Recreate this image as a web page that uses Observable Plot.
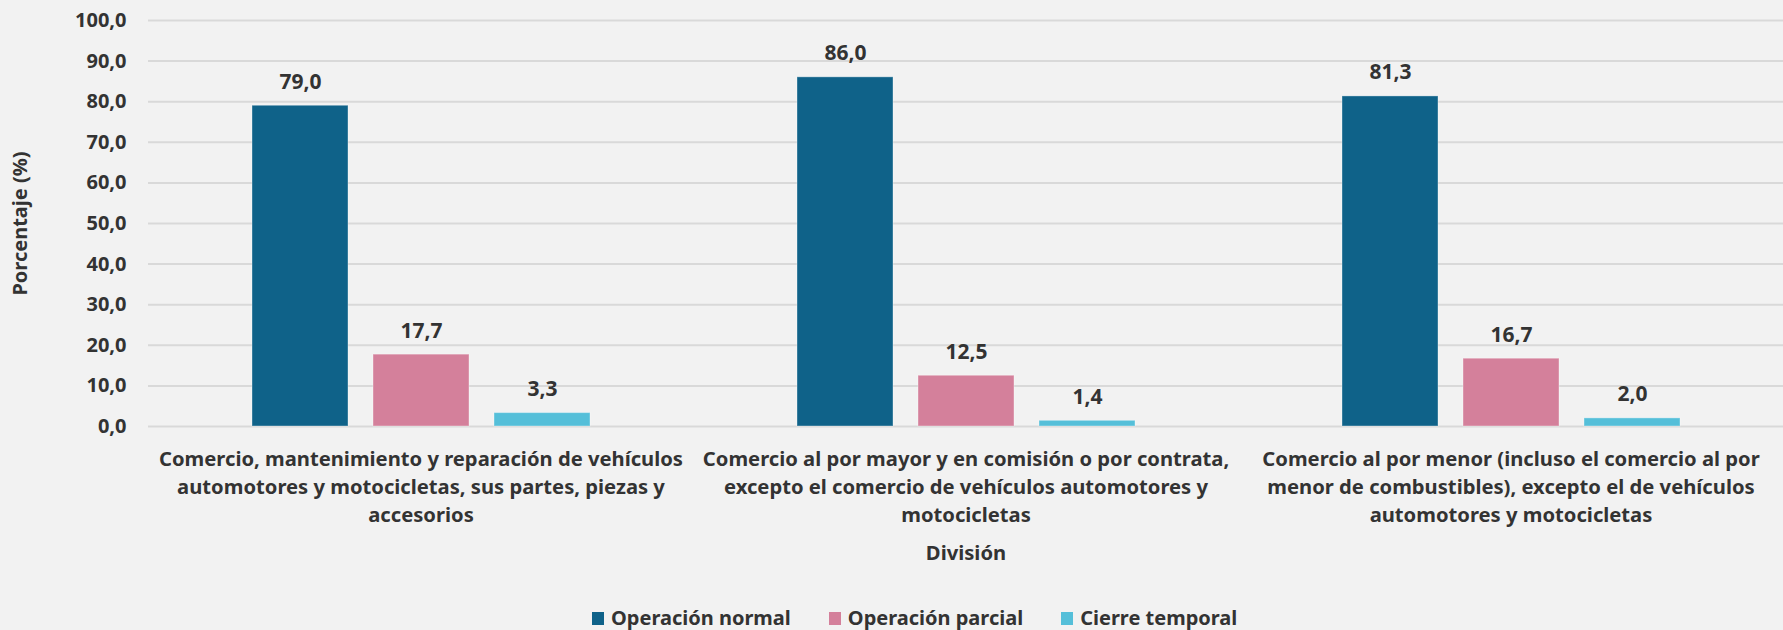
<!DOCTYPE html>
<html>
<head>
<meta charset="utf-8">
<script src="https://cdn.jsdelivr.net/npm/d3@7"></script>
<script src="https://cdn.jsdelivr.net/npm/@observablehq/plot@0.6"></script>
<style>
  html, body { margin: 0; padding: 0; background: #f2f2f2; }
  #chart { width: 1783px; }
  #legend { margin-left: 592px; padding-top: 31px; height: 24px; display: flex; align-items: center;
    font-family: "Noto Sans", sans-serif; font-weight: bold; font-size: 20px; color: #333; line-height: 24px; }
  #legend .item { display: inline-flex; align-items: center; margin-right: 38px; }
  #legend .sw { width: 12px; height: 13px; margin-right: 7px; display: inline-block; }
</style>
</head>
<body>
<div id="chart"></div>
<div id="legend"></div>
<script>
const divisiones = [
  "Comercio, mantenimiento y reparación de vehículos\nautomotores y motocicletas, sus partes, piezas y\naccesorios",
  "Comercio al por mayor y en comisión o por contrata,\nexcepto el comercio de vehículos automotores y\nmotocicletas",
  "Comercio al por menor (incluso el comercio al por\nmenor de combustibles), excepto el de vehículos\nautomotores y motocicletas"
];
const series = ["Operación normal", "Operación parcial", "Cierre temporal"];
const operacionNormal = [79.0, 86.0, 81.3];
const operacionParcial = [17.7, 12.5, 16.7];
const cierreTemporal = [3.3, 1.4, 2.0];
const yTicks = [0, 10, 20, 30, 40, 50, 60, 70, 80, 90, 100];
const colores = ["#0f6289", "#d4809b", "#55bfd9"];

const valores = [operacionNormal, operacionParcial, cierreTemporal];
const rows = [];
divisiones.forEach((d, i) => {
  series.forEach((s, j) => rows.push({division: d, serie: s, valor: valores[j][i]}));
});
const fmt = v => v.toFixed(1).replace(".", ",");

const chart = Plot.plot({
  width: 1783,
  height: 575,
  marginLeft: 148,
  marginRight: 0,
  marginTop: 20,
  marginBottom: 149,
  style: {background: "#f2f2f2", fontFamily: "'Noto Sans', sans-serif", fontWeight: "bold", color: "#333", overflow: "visible"},
  fx: {domain: divisiones, padding: 0},
  x: {domain: series, paddingInner: 0.207, paddingOuter: 0.855, axis: null},
  y: {domain: [0, 100]},
  color: {domain: series, range: colores},
  marks: [
    Plot.gridY(yTicks, {stroke: "#d9d9d9", strokeOpacity: 1, strokeWidth: 2}),
    Plot.axisY(yTicks, {tickFormat: fmt, tickSize: 0, tickPadding: 22, fontSize: 20,
      label: "Porcentaje (%)", labelAnchor: "center", labelArrow: "none", labelOffset: 136}),
    Plot.axisFx({anchor: "bottom", tickSize: 0, tickPadding: 19, fontSize: 20.2, lineHeight: 1.4,
      label: "División", labelAnchor: "center", labelArrow: "none", labelOffset: 133}),
    Plot.barY(rows, {fx: "division", x: "serie", y: "valor", fill: "serie", stroke: "#ffffff", strokeOpacity: 0.35, strokeWidth: 1}),
    Plot.text(rows, {fx: "division", x: "serie", y: "valor", text: d => fmt(d.valor),
      lineAnchor: "bottom", dy: -17, fontSize: 21, fontWeight: "bold", fill: "#333"})
  ]
});
document.getElementById("chart").append(chart);

const legend = document.getElementById("legend");
series.forEach((s, i) => {
  const item = document.createElement("span");
  item.className = "item";
  const sw = document.createElement("span");
  sw.className = "sw";
  sw.style.background = colores[i];
  item.append(sw, document.createTextNode(s));
  legend.append(item);
});
</script>
</body>
</html>
